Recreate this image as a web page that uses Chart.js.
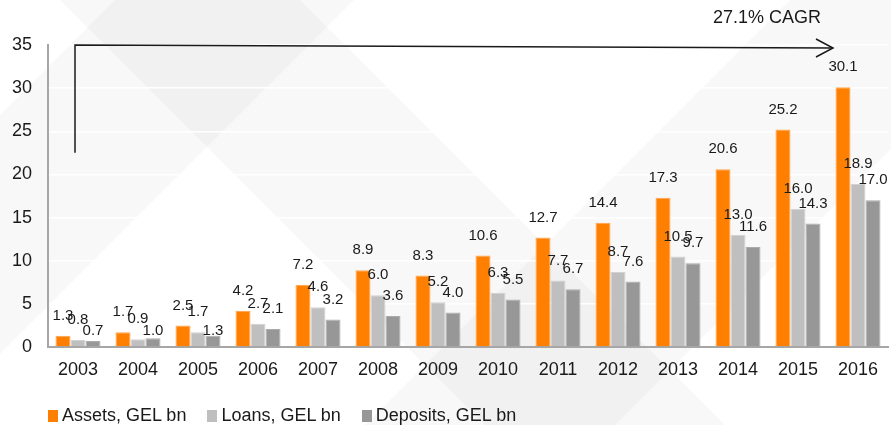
<!DOCTYPE html>
<html>
<head>
<meta charset="utf-8">
<script src="https://cdn.jsdelivr.net/npm/chart.js@4/dist/chart.umd.min.js"></script>
<style>
  html, body { margin: 0; padding: 0; background: #ffffff; }
  #wrap { position: relative; width: 891px; height: 425px; overflow: hidden;
          font-family: "Liberation Sans", Arial, sans-serif; color: #1a1a1a; }
  #bg, #chart { position: absolute; left: 0; top: 0; }
  #legend { position: absolute; left: 48px; top: 406px; display: flex; font-size: 18px; line-height: 18px; white-space: nowrap; }
  .item { display: flex; align-items: center; margin-right: 21px; }
  .swatch { width: 10px; height: 12px; margin-right: 4px; position: relative; top: 1px; }
</style>
</head>
<body>
<div id="wrap">
  <!-- faint diagonal watermark bands behind the plot -->
  <svg id="bg" width="891" height="425" xmlns="http://www.w3.org/2000/svg">
    <g fill="#000000" fill-opacity="0.026">
      <polygon points="115,0 354,0 0,354 0,115"/>
      <polygon points="60,0 300,0 725,425 485,425"/>
      <polygon points="790,0 1040,0 615,425 365,425"/>
    </g>
  </svg>
  <canvas id="chart" width="891" height="425"></canvas>
  <div id="legend"></div>
</div>
<script>
// Years on the category axis
const years = ['2003', '2004', '2005', '2006', '2007', '2008', '2009',
               '2010', '2011', '2012', '2013', '2014', '2015', '2016'];

// Balance sheet figures, GEL bn
const assets   = [1.3, 1.7, 2.5, 4.2, 7.2, 8.9, 8.3, 10.6, 12.7, 14.4, 17.3, 20.6, 25.2, 30.1];
const loans    = [0.8, 0.9, 1.7, 2.7, 4.6, 6.0, 5.2, 6.3, 7.7, 8.7, 10.5, 13.0, 16.0, 18.9];
const deposits = [0.7, 1.0, 1.3, 2.1, 3.2, 3.6, 4.0, 5.5, 6.7, 7.6, 9.7, 11.6, 14.3, 17.0];

const seriesNames = ['Assets, GEL bn', 'Loans, GEL bn', 'Deposits, GEL bn'];
const seriesColors = ['#ff8000', '#bfbfbf', '#979797'];
const seriesEdges = ['#ffa34d', '#d2d2d2', '#ababab'];

// Value axis range
const yMin = 0, yMax = 35, yStep = 5;

// Growth arrow: runs from the first year to the last at the top of the axis
const cagrText = '27.1% CAGR';
const cagrStartValue = 22.5;

const FONT = '"Liberation Sans", Arial, sans-serif';
const INK = '#1a1a1a';

// Value labels above every bar
const valueLabels = {
  id: 'valueLabels',
  afterDatasetsDraw(chart) {
    const ctx = chart.ctx;
    const base = chart.scales.y.getPixelForValue(0);
    ctx.save();
    ctx.font = '15px ' + FONT;
    ctx.fillStyle = INK;
    ctx.textAlign = 'center';
    ctx.textBaseline = 'middle';
    chart.data.datasets.forEach((ds, i) => {
      chart.getDatasetMeta(i).data.forEach((bar, j) => {
        const v = ds.data[j];
        let y = bar.y - 20;
        // very short deposit bars carry their label closer to the axis
        if (i === 2 && v < 2) y = base - 16;
        ctx.fillText(v.toFixed(1), bar.x, y);
      });
    });
    ctx.restore();
  }
};

// Elbow arrow with the compound growth note
const cagrArrow = {
  id: 'cagrArrow',
  afterDraw(chart) {
    const { x, y } = chart.scales;
    const ctx = chart.ctx;
    const x0 = x.getPixelForValue(0) - 3;
    const x1 = x.getPixelForValue(years.length - 1) - 25;
    const yTop = y.getPixelForValue(yMax);
    const yLow = y.getPixelForValue(cagrStartValue);
    const yEnd = yTop + 3;
    ctx.save();
    ctx.strokeStyle = INK;
    ctx.lineWidth = 1.5;
    ctx.beginPath();
    ctx.moveTo(x0, yLow);
    ctx.lineTo(x0, yTop);
    ctx.lineTo(x1, yEnd);
    ctx.stroke();
    ctx.beginPath();
    ctx.moveTo(x1 - 17, yEnd - 9);
    ctx.lineTo(x1, yEnd);
    ctx.lineTo(x1 - 17, yEnd + 9);
    ctx.stroke();
    ctx.font = '18px ' + FONT;
    ctx.fillStyle = INK;
    ctx.textAlign = 'center';
    ctx.textBaseline = 'middle';
    ctx.fillText(cagrText, x1 - 66, yTop - 27);
    ctx.restore();
  }
};

Chart.defaults.font.family = FONT;
Chart.defaults.color = INK;

const chart = new Chart(document.getElementById('chart'), {
  type: 'bar',
  data: {
    labels: years,
    datasets: [assets, loans, deposits].map((values, i) => ({
      label: seriesNames[i],
      data: values,
      backgroundColor: seriesColors[i],
      borderColor: seriesEdges[i],
      borderWidth: 1,
      categoryPercentage: 0.75,
      barPercentage: 1.0
    }))
  },
  options: {
    responsive: false,
    animation: false,
    devicePixelRatio: 1,
    layout: { padding: { left: 0, top: 45, right: 3, bottom: 38 } },
    plugins: {
      legend: { display: false },
      tooltip: { enabled: false }
    },
    scales: {
      x: {
        grid: { display: false, drawTicks: false },
        border: { display: true, color: '#a6a6a6', width: 2 },
        ticks: { font: { size: 18 }, color: INK, padding: 12, maxRotation: 0 },
        afterFit(scale) { scale.height = 40; }
      },
      y: {
        min: yMin,
        max: yMax,
        grid: { color: '#ffffff', lineWidth: 1.5, drawTicks: false },
        border: { display: true, color: '#a6a6a6', width: 2 },
        ticks: { stepSize: yStep, font: { size: 18 }, color: INK, padding: 16 },
        afterFit(scale) { scale.width = 48; }
      }
    }
  },
  plugins: [valueLabels, cagrArrow]
});

// Legend row under the axis
const legend = document.getElementById('legend');
seriesNames.forEach((name, i) => {
  const item = document.createElement('div');
  item.className = 'item';
  const sw = document.createElement('span');
  sw.className = 'swatch';
  sw.style.background = seriesColors[i];
  const tx = document.createElement('span');
  tx.textContent = name;
  item.appendChild(sw);
  item.appendChild(tx);
  legend.appendChild(item);
});
</script>
</body>
</html>
